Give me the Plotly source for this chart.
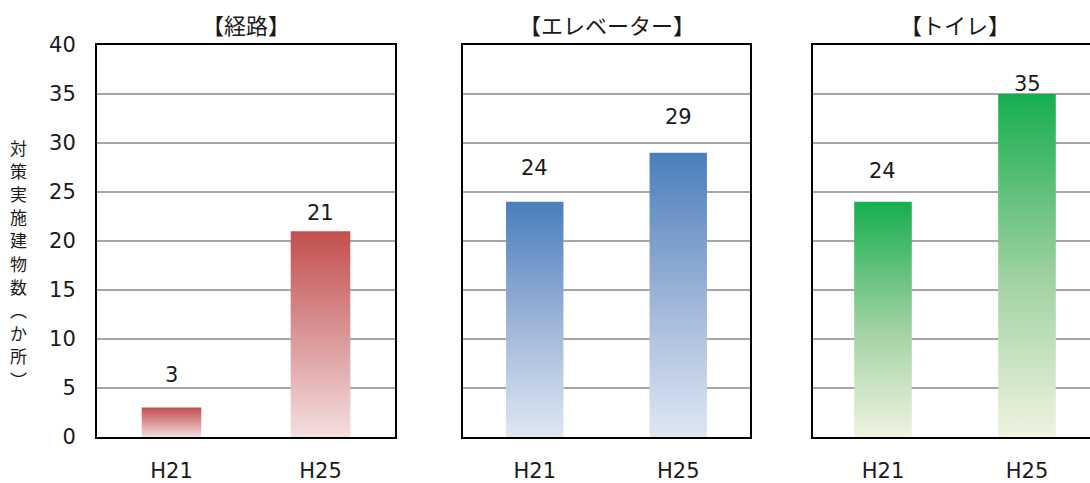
import plotly.graph_objects as go

# ---- data -------------------------------------------------------------
years = ["H21", "H25"]
panel_titles = ["【経路】", "【エレベーター】", "【トイレ】"]
route_counts = [3, 21]
elevator_counts = [24, 29]
toilet_counts = [24, 35]
y_ticks = [0, 5, 10, 15, 20, 25, 30, 35, 40]
y_axis_title = "対策実施建物数（か所）"

# ---- styling ----------------------------------------------------------
W, H = 1090, 483
M_L, M_R, M_T, M_B = 97, 0, 45, 39
PLOT_W = W - M_L - M_R
PLOT_H = H - M_T - M_B

series = [route_counts, elevator_counts, toilet_counts]
# bottom -> top colour stops of each panel's vertical gradient
gradients = [
    [[0.0, "#f4dfdf"], [0.45, "#dc9c9e"], [1.0, "#c24f4d"]],
    [[0.0, "#dee8f3"], [0.45, "#a3b8da"], [1.0, "#4a7ebd"]],
    [[0.0, "#eff3e0"], [0.45, "#a3d2a4"], [1.0, "#16ae4f"]],
]
# pixel lift of each value label above its bar top
label_lift = [[33, 18], [34, 36], [31, 10]]
# horizontal pixel extent of each panel
panel_px = [(97, 395), (463, 750), (813, 1090)]
# category axis ranges (third panel runs past the right edge)
x_ranges = [[-0.5, 1.5], [-0.5, 1.5], [-0.486, 1.4375]]
BAR_HALF = 0.2

NUM_FONT = "DejaVu Sans"
JP_FONT = "Noto Sans CJK JP"
TXT = "#1a1a1a"

fig = go.Figure()
annotations = []
layout_axes = {}

for p, (counts, scale) in enumerate(zip(series, gradients)):
    sfx = "" if p == 0 else str(p + 1)
    xa, ya = "x" + sfx, "y" + sfx
    for i, v in enumerate(counts):
        fig.add_trace(go.Scatter(
            x=[i - BAR_HALF, i - BAR_HALF, i + BAR_HALF, i + BAR_HALF, i - BAR_HALF],
            y=[0, v, v, 0, 0],
            mode="lines",
            line=dict(width=0),
            fill="toself",
            fillgradient=dict(type="vertical", colorscale=scale),
            xaxis=xa, yaxis=ya,
            hoverinfo="skip",
            showlegend=False,
        ))
        annotations.append(dict(
            x=i, y=v, xref=xa, yref=ya,
            text=str(v), showarrow=False,
            yanchor="middle", yshift=label_lift[p][i],
            font=dict(family=NUM_FONT, size=21, color=TXT),
        ))

    annotations.append(dict(
        x=0.5, y=1, xref=xa, yref="paper",
        text=panel_titles[p], showarrow=False,
        yanchor="middle", yshift=21,
        font=dict(family=JP_FONT, size=22, color=TXT),
    ))

    x0, x1 = panel_px[p]
    dom = [(x0 - M_L) / PLOT_W, min(1.0, (x1 - M_L) / PLOT_W)]
    layout_axes["xaxis" + sfx] = dict(
        domain=dom, range=x_ranges[p],
        tickvals=[0, 1], ticktext=years,
        showgrid=False, zeroline=False,
        showline=True, linecolor="black", linewidth=2, mirror=True,
        ticks="", ticklabelstandoff=14,
        tickfont=dict(family=NUM_FONT, size=21, color=TXT),
        anchor=ya, fixedrange=True,
    )
    layout_axes["yaxis" + sfx] = dict(
        range=[0, 40], tickvals=y_ticks,
        showgrid=True, gridcolor="#a6a6a6", gridwidth=1.5,
        zeroline=False,
        showline=True, linecolor="black", linewidth=2,
        mirror=(p < 2),
        showticklabels=(p == 0), ticks="", ticklabelstandoff=15,
        tickfont=dict(family=NUM_FONT, size=21, color=TXT),
        anchor=xa, fixedrange=True,
    )

# vertical axis title, one upright character per line
vertical_chars = [c for c in y_axis_title.replace("（", "︵").replace("）", "︶")]
for k, ch in enumerate(vertical_chars):
    y_px = 149 + k * 23.6
    annotations.append(dict(
        x=(18 - M_L) / PLOT_W, y=1 - (y_px - M_T) / PLOT_H,
        xref="paper", yref="paper",
        text=ch, showarrow=False,
        xanchor="center", yanchor="middle",
        font=dict(family=JP_FONT, size=17, color=TXT),
    ))

fig.update_layout(
    width=W, height=H,
    margin=dict(l=M_L, r=M_R, t=M_T, b=M_B, pad=0),
    paper_bgcolor="white", plot_bgcolor="white",
    annotations=annotations,
    showlegend=False,
    **layout_axes,
)

fig.write_html("out.html")
